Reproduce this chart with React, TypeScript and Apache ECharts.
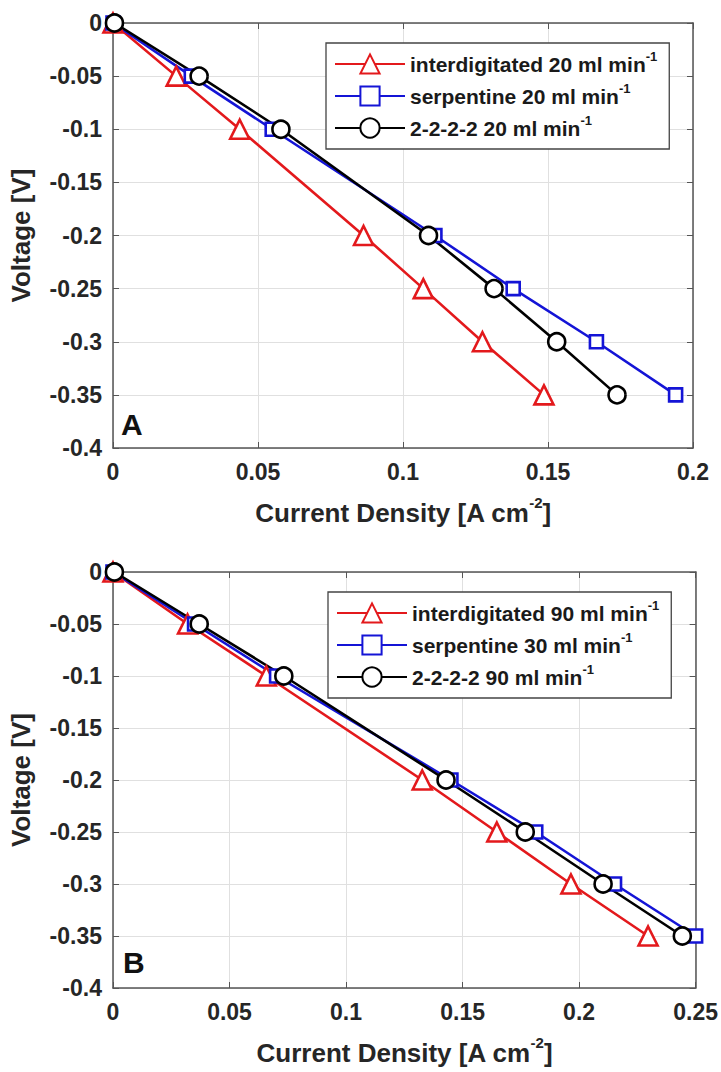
import React, { useEffect, useRef } from "react";
import * as echarts from "echarts";

// Voltage levels (y values), shared by all curves
const voltages = [0, -0.05, -0.1, -0.2, -0.25, -0.3, -0.35];

// Panel A: current densities [A cm^-2]
const interdigitatedA = [0, 0.0218, 0.0437, 0.0864, 0.107, 0.1274, 0.1486];
const serpentineA = [0, 0.027, 0.0549, 0.111, 0.138, 0.1667, 0.194];
const twoTwoA = [0.0005, 0.0297, 0.0579, 0.1088, 0.1314, 0.153, 0.1738];

// Panel B
const interdigitatedB = [0, 0.032, 0.0658, 0.1327, 0.1647, 0.1965, 0.2296];
const serpentineB = [0, 0.035, 0.0702, 0.145, 0.1814, 0.2152, 0.25];
const twoTwoB = [0.0006, 0.037, 0.0733, 0.1429, 0.1769, 0.2103, 0.2443];

const namesA = ["interdigitated 20 ml min", "serpentine 20 ml min", "2-2-2-2 20 ml min"];
const namesB = ["interdigitated 90 ml min", "serpentine 30 ml min", "2-2-2-2 90 ml min"];

const RED = "#e3191c";
const BLUE = "#1414d6";
const BLACK = "#000000";
const FRAME = "#555555";
const TXT = "#262626";
const FONT = "'Liberation Sans', Arial, Helvetica, sans-serif";

const pair = (xs: number[]) => xs.map((x, i) => [x, voltages[i]]);

function mkX(gridIndex: number, max: number, position: string, main: boolean) {
  return {
    type: "value",
    gridIndex,
    position,
    min: 0,
    max,
    interval: 0.05,
    name: main ? "Current Density [A cm{sup|-2}]" : "",
    nameLocation: "middle",
    nameGap: 47,
    nameTextStyle: {
      fontFamily: FONT,
      fontSize: 26,
      fontWeight: "bold",
      color: TXT,
      lineHeight: 36,
      rich: {
        sup: { fontSize: 15, fontWeight: "bold", color: TXT, verticalAlign: "top", lineHeight: 15, fontFamily: FONT },
      },
    },
    axisLine: { show: true, onZero: false, lineStyle: { color: FRAME, width: 1.5 } },
    axisTick: { show: true, inside: true, length: 6, lineStyle: { color: FRAME, width: 1 } },
    axisLabel: {
      show: main,
      margin: 12,
      fontFamily: FONT,
      fontSize: 23,
      fontWeight: "bold",
      color: TXT,
    },
    splitLine: { show: main, lineStyle: { color: "#e0e0e0", width: 1 } },
  };
}

function mkY(gridIndex: number, position: string, main: boolean) {
  return {
    type: "value",
    gridIndex,
    position,
    min: -0.4,
    max: 0,
    interval: 0.05,
    name: main ? "Voltage [V]" : "",
    nameLocation: "middle",
    nameGap: 79,
    nameTextStyle: { fontFamily: FONT, fontSize: 26, fontWeight: "bold", color: TXT },
    axisLine: { show: true, onZero: false, lineStyle: { color: FRAME, width: 1.5 } },
    axisTick: { show: true, inside: true, length: 6, lineStyle: { color: FRAME, width: 1 } },
    axisLabel: {
      show: main,
      margin: 11,
      fontFamily: FONT,
      fontSize: 23,
      fontWeight: "bold",
      color: TXT,
    },
    splitLine: { show: main, lineStyle: { color: "#e0e0e0", width: 1 } },
  };
}

function mkSeries(name: string, xs: number[], axis: number, color: string, symbol: string, size: number) {
  return {
    type: "line",
    name,
    xAxisIndex: axis,
    yAxisIndex: axis,
    data: pair(xs),
    symbol,
    symbolSize: size,
    showAllSymbol: true,
    clip: false,
    lineStyle: { color, width: 2.6 },
    itemStyle: { color: "#ffffff", borderColor: color, borderWidth: 2.6 },
    emphasis: { disabled: true },
  };
}

function mkLegend(names: string[], left: number, top: number) {
  return {
    data: names,
    orient: "vertical",
    left,
    top,
    itemWidth: 70,
    itemHeight: 24,
    itemGap: 4,
    padding: [7, 12, 7, 8],
    backgroundColor: "#ffffff",
    borderColor: "#444444",
    borderWidth: 1.3,
    borderRadius: 0,
    selectedMode: false,
    formatter: (n: string) => n + "{sup|-1}",
    textStyle: {
      fontFamily: FONT,
      fontSize: 21,
      fontWeight: "bold",
      color: "#1a1a1a",
      lineHeight: 28,
      rich: {
        sup: { fontSize: 13, fontWeight: "bold", color: "#1a1a1a", verticalAlign: "top", lineHeight: 13, fontFamily: FONT },
      },
    },
  };
}

export default function App() {
  const ref = useRef<HTMLDivElement>(null);
  useEffect(() => {
    document.body.style.margin = "0";
    if (!ref.current) return;
    const chart = echarts.init(ref.current, undefined, { renderer: "svg" });
    chart.setOption({
      animation: false,
      backgroundColor: "#ffffff",
      grid: [
        { left: 111, top: 23, width: 582, height: 425 },
        { left: 111, top: 572, width: 585, height: 420 },
      ],
      xAxis: [mkX(0, 0.2, "bottom", true), mkX(0, 0.2, "top", false), mkX(1, 0.25, "bottom", true), mkX(1, 0.25, "top", false)],
      yAxis: [mkY(0, "left", true), mkY(0, "right", false), mkY(1, "left", true), mkY(1, "right", false)],
      legend: [mkLegend(namesA, 326, 43), mkLegend(namesB, 328, 592)],
      series: [
        mkSeries(namesA[0], interdigitatedA, 0, RED, "triangle", 19),
        mkSeries(namesA[1], serpentineA, 0, BLUE, "rect", 13),
        mkSeries(namesA[2], twoTwoA, 0, BLACK, "circle", 17),
        mkSeries(namesB[0], interdigitatedB, 2, RED, "triangle", 19),
        mkSeries(namesB[1], serpentineB, 2, BLUE, "rect", 13),
        mkSeries(namesB[2], twoTwoB, 2, BLACK, "circle", 17),
      ],
      graphic: [
        {
          type: "text",
          left: 121,
          top: 409,
          style: { text: "A", fontFamily: FONT, fontSize: 30, fontWeight: "bold", fill: "#111" },
        },
        {
          type: "text",
          left: 123,
          top: 947,
          style: { text: "B", fontFamily: FONT, fontSize: 30, fontWeight: "bold", fill: "#111" },
        },
      ],
    });
    return () => chart.dispose();
  }, []);
  return <div ref={ref} style={{ width: 721, height: 1072 }} />;
}
